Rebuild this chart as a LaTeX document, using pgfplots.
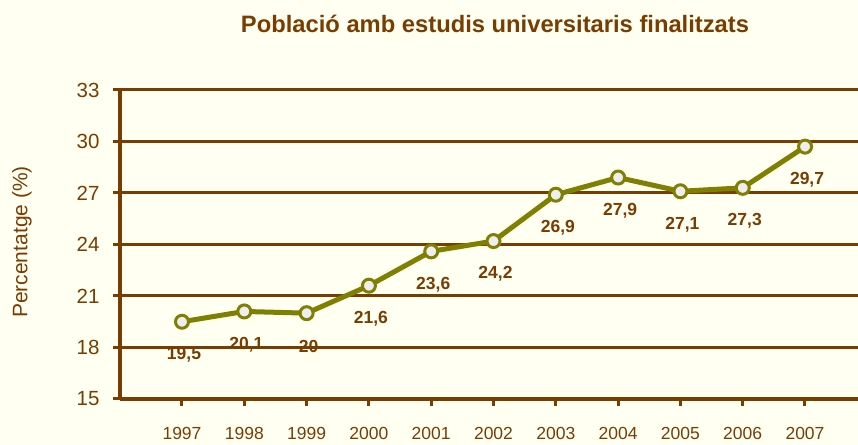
\documentclass[border=0pt]{standalone}
\usepackage{fontspec}
\setmainfont{Liberation Sans}
\usepackage{graphicx}
\usepackage{pgfplots}
\pgfplotsset{compat=1.18}
\definecolor{bg}{RGB}{255,255,242}
\definecolor{brn}{RGB}{122,61,0}
\definecolor{olv}{RGB}{128,128,0}
\definecolor{mk}{RGB}{238,238,242}

\begin{document}
\begin{tikzpicture}[x=1bp,y=1bp]
\fill[bg] (0,0) rectangle (858,445);
\path[use as bounding box] (0,0) rectangle (858,445);
\begin{axis}[
  at={(120bp,46bp)}, anchor=south west,
  scale only axis, width=738bp, height=309bp,
  xmin=1996.005, xmax=2007.85,
  ymin=15, ymax=33,
  ytick={15,18,...,33},
  xtick={1997,...,2007},
  axis x line*=bottom, axis y line*=left,
  axis line style={brn, line width=3.5bp},
  ymajorgrids,
  grid style={brn, line width=3bp},
  tick align=outside,
  major tick length=7bp,
  tick style={brn, line width=3bp},
  /pgf/number format/assume math mode=true,
  /pgf/number format/1000 sep={},
  yticklabel style={font=\fontsize{20.5bp}{24bp}\selectfont, text=brn, xshift=-10bp},
  xticklabel style={font=\fontsize{17.5bp}{20bp}\selectfont, text=brn, yshift=-18bp},
]
\addplot[olv, line width=5bp, mark=*, mark size=6.5bp,
  mark options={fill=mk, draw=olv, line width=3bp},
  nodes near coords, point meta=explicit symbolic,
  every node near coord/.style={anchor=center, yshift=-33bp, xshift=2bp,
    font=\bfseries\fontsize{17.5bp}{20bp}\selectfont, text=brn}]
  table[meta=lab] {
x y lab
1997 19.5 19,5
1998 20.1 20,1
1999 20.0 20
2000 21.6 21,6
2001 23.6 23,6
2002 24.2 24,2
2003 26.9 26,9
2004 27.9 27,9
2005 27.1 27,1
2006 27.3 27,3
2007 29.7 29,7
};
\end{axis}
\node[font=\bfseries\fontsize{21bp}{25bp}\selectfont, text=brn, inner sep=0] at (495,421)
  {\resizebox{508bp}{!}{Població amb estudis universitaris finalitzats}};
\node[rotate=90, font=\fontsize{21bp}{25bp}\selectfont, text=brn] at (22,203)
  {Percentatge (\%)};
\end{tikzpicture}
\end{document}
